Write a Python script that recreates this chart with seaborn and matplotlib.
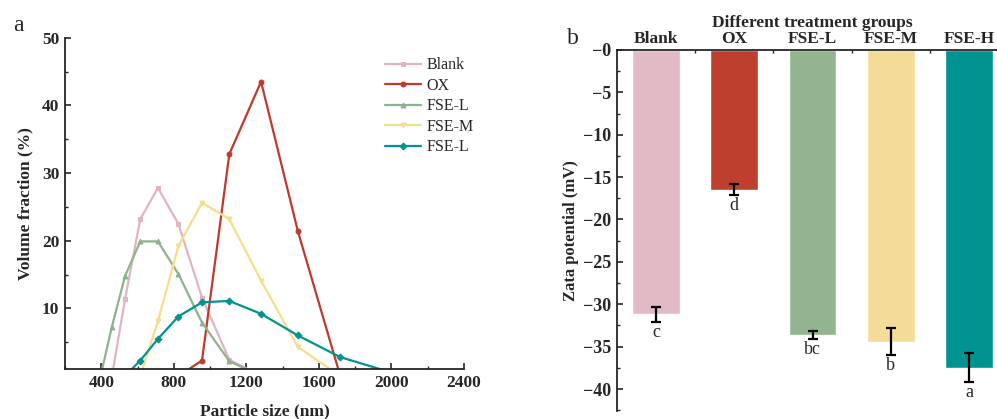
import numpy as np
import pandas as pd
import matplotlib
matplotlib.use("Agg")
import matplotlib.pyplot as plt
import seaborn as sns
from matplotlib.ticker import MultipleLocator, FuncFormatter

# particle size distribution (panel a)
sizeBins = [396.1, 458.7, 531.2, 615.1, 712.4, 825.0, 955.4, 1106, 1281, 1484, 1718, 1990, 2292]
blankVol = [None, 0, 11.4, 23.2, 27.8, 22.5, 11.6, 2.4, 0, None, None, None, None]
oxVol = [None, None, None, None, None, 0, 2.3, 32.8, 43.5, 21.4, 0, None, None]
fseLVol = [0, 7.3, 14.8, 19.9, 19.9, 15.1, 7.9, 2.2, 0, None, None, None, None]
fseMVol = [None, None, None, 0, 8.1, 19.2, 25.6, 23.2, 14.1, 4.3, 0, None, None]
fseHVol = [None, None, 0, 2.3, 5.5, 8.8, 10.9, 11.1, 9.2, 6.0, 2.8, 0.6, 0]
lineLabels = ["Blank", "OX", "FSE-L", "FSE-M", "FSE-L"]

# zeta potential (panel b)
groups = ["Blank", "OX", "FSE-L", "FSE-M", "FSE-H"]
zeta = [-31.2, -16.5, -33.6, -34.4, -37.5]
zetaErr = [0.9, 0.65, 0.45, 1.6, 1.7]
sigLetters = ["c", "d", "bc", "b", "a"]

colors = ["#E2BAC6", "#BE3F2E", "#92B58F", "#F4DC98", "#00938F"]
lineColors = ["#E0B4C1", "#C0392B", "#8DB38C", "#F7DC8C", "#00938F"]
markers = ["s", "o", "^", "v", "D"]

sns.set_style("ticks")
plt.rcParams["font.family"] = ["Liberation Serif", "DejaVu Serif"]
plt.rcParams["xtick.direction"] = "in"
plt.rcParams["ytick.direction"] = "in"

fig = plt.figure(figsize=(9.97, 4.19), dpi=100)

#panel a
ax1 = fig.add_axes([0.0652, 0.1186, 0.4002, 0.7914])
series = [blankVol, oxVol, fseLVol, fseMVol, fseHVol]
for vals, lab, c, m in zip(series, lineLabels, lineColors, markers):
  d = pd.DataFrame({"size": sizeBins, "vol": vals}).dropna()
  sns.lineplot(data=d, x="size", y="vol", ax=ax1, color=c, marker=m, markersize=3.5,
               markeredgecolor=c, linewidth=1.6, label=lab, sort=False)

ax1.set_xlim(200, 2400)
ax1.set_ylim(1, 50)
ax1.xaxis.set_major_locator(MultipleLocator(400))
ax1.xaxis.set_minor_locator(MultipleLocator(200))
ax1.set_yticks([10, 20, 30, 40, 50])
ax1.yaxis.set_minor_locator(MultipleLocator(5))
ax1.tick_params(which="major", length=4, width=1.2, labelsize=12.5, pad=4)
ax1.tick_params(which="minor", length=2.5, width=1.0)
for t in ax1.get_xticklabels() + ax1.get_yticklabels():
  t.set_fontweight("bold")
ax1.set_xlabel("Particle size (nm)", fontsize=12.5, fontweight="bold", labelpad=9)
ax1.set_ylabel("Volume fraction (%)", fontsize=12.5, fontweight="bold", labelpad=6)
for s in ["top", "right"]:
  ax1.spines[s].set_visible(False)
for s in ["left", "bottom"]:
  ax1.spines[s].set_linewidth(1.3)
ax1.legend(loc="upper left", bbox_to_anchor=(0.785, 0.96), frameon=False, fontsize=11.5,
           handlelength=2.3, handletextpad=0.3, labelspacing=0.28, borderaxespad=0)

fig.text(0.013, 0.925, "a", fontsize=17)

#panel b
ax2 = fig.add_axes([0.6186, 0.019, 0.3927, 0.8617])
bdf = pd.DataFrame({"group": groups, "zeta": zeta})
sns.barplot(data=bdf, x="group", y="zeta", hue="group", palette=dict(zip(groups, colors)),
            ax=ax2, width=0.61, errorbar=None, legend=False, saturation=1)
ax2.errorbar(range(len(groups)), zeta, yerr=zetaErr, fmt="none", ecolor="black",
             elinewidth=1.6, capsize=3.5, capthick=1.6)
for i, (v, e, lt) in enumerate(zip(zeta, zetaErr, sigLetters)):
  ax2.text(i, v - e - 0.25, lt, ha="center", va="top", fontsize=13)

ax2.set_xlim(-0.5, 4.5)
ax2.set_ylim(-42.6, 0)
ax2.xaxis.tick_top()
ax2.xaxis.set_label_position("top")
ax2.set_xticks(range(len(groups)))
ax2.set_xticklabels(groups, fontsize=12.5, fontweight="bold")
ax2.set_xticks([0.5, 1.5, 2.5, 3.5], minor=True)
ax2.set_yticks(np.arange(0, -41, -5))
ax2.yaxis.set_minor_locator(MultipleLocator(2.5))
ax2.yaxis.set_major_formatter(FuncFormatter(lambda v, p: "\u22120" if v == 0 else f"{v:g}".replace("-", "\u2212")))
ax2.tick_params(which="major", length=4, width=1.2, pad=2)
ax2.tick_params(axis="y", labelsize=13, pad=4)
ax2.tick_params(which="minor", length=2.5, width=1.0)
for t in ax2.get_yticklabels():
  t.set_fontweight("bold")
ax2.set_xlabel("Different treatment groups", fontsize=12.5, fontweight="bold", labelpad=3)
ax2.set_ylabel("Zata potential (mV)", fontsize=12, fontweight="bold", labelpad=3)
for s in ["bottom", "right"]:
  ax2.spines[s].set_visible(False)
for s in ["left", "top"]:
  ax2.spines[s].set_linewidth(1.3)

fig.text(0.569, 0.895, "b", fontsize=17)

fig.savefig("out.png", dpi=100)
